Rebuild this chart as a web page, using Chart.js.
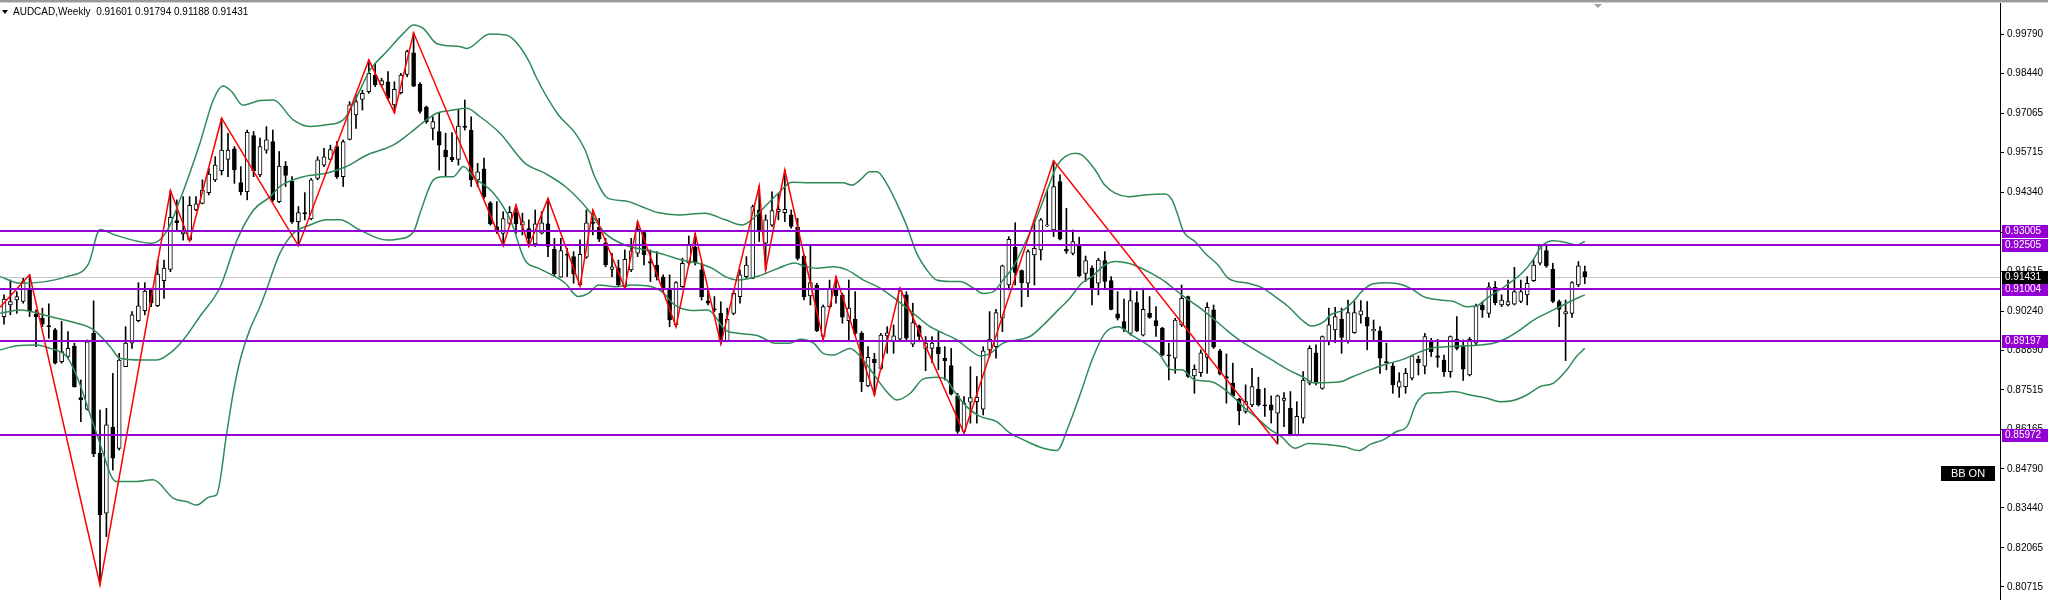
<!DOCTYPE html>
<html>
<head>
<meta charset="utf-8">
<title>AUDCAD Weekly</title>
<script src="https://cdn.jsdelivr.net/npm/chart.js@4.4.1/dist/chart.umd.min.js"></script>
<style>
  html, body { margin: 0; padding: 0; background: #fff; }
  canvas { display: block; }
</style>
</head>
<body>
<canvas id="myChart" width="2048" height="600"></canvas>
<script>
const symbolTitle = "AUDCAD,Weekly";

// weekly candles, oldest first
const opens = [
  0.9005,0.9045,0.9062,0.9057,0.9099,0.9013,0.8999,0.8973,0.8959,0.8849,
  0.8867,0.8903,0.8725,0.8685,0.8947,0.8533,0.8326,0.8623,0.8550,0.8832,
  0.8913,0.8991,0.9025,0.9099,0.9043,0.9129,0.9168,0.9336,0.9290,0.9269,
  0.9373,0.9396,0.9433,0.9477,0.9509,0.9548,0.9584,0.9468,0.9436,0.9630,
  0.9494,0.9580,0.9609,0.9402,0.9525,0.9473,0.9333,0.9364,0.9342,0.9482,
  0.9528,0.9548,0.9592,0.9488,0.9617,0.9701,0.9755,0.9782,0.9839,0.9805,
  0.9816,0.9736,0.9778,0.9841,0.9916,0.9808,0.9728,0.9655,0.9644,0.9580,
  0.9555,0.9548,0.9663,0.9649,0.9477,0.9515,0.9398,0.9315,0.9292,0.9327,
  0.9364,0.9321,0.9309,0.9256,0.9293,0.9325,0.9237,0.9141,0.9220,0.9212,
  0.9114,0.9210,0.9329,0.9313,0.9260,0.9168,0.9172,0.9108,0.9166,0.9224,
  0.9295,0.9195,0.9183,0.9141,0.9097,0.8976,0.9108,0.9189,0.9244,0.9166,
  0.9059,0.9030,0.9016,0.8922,0.9016,0.9074,0.9143,0.9137,0.9373,0.9258,
  0.9321,0.9367,0.9364,0.9356,0.9313,0.9214,0.9076,0.9114,0.8936,0.9039,
  0.9103,0.9078,0.8991,0.8996,0.8947,0.8765,0.8857,0.8826,0.8938,0.8922,
  0.8927,0.9080,0.8910,0.8973,0.8895,0.8895,0.8899,0.8861,0.8836,0.8731,
  0.8608,0.8709,0.8711,0.8685,0.8890,0.8901,0.8999,0.9114,0.9244,0.9164,
  0.9120,0.9218,0.9235,0.9318,0.9304,0.9471,0.9237,0.9223,0.9249,0.9154,
  0.9172,0.9120,0.9198,0.9129,0.9014,0.8988,0.8947,0.9053,0.8941,0.9016,
  0.8991,0.8965,0.8872,0.8861,0.8976,0.9074,0.8800,0.8811,0.8864,0.9028,
  0.8887,0.8798,0.8775,0.8719,0.8677,0.8700,0.8754,0.8700,0.8700,0.8671,
  0.8715,0.8688,0.8596,0.8654,0.8775,0.8880,0.8757,0.8918,0.8959,0.8996,
  0.8918,0.8949,0.9011,0.9002,0.8955,0.8956,0.8849,0.8834,0.8761,0.8763,
  0.8792,0.8857,0.8834,0.8918,0.8869,0.8855,0.8815,0.8926,0.8901,0.8803,
  0.8913,0.9045,0.9016,0.9106,0.9045,0.9045,0.9048,0.9057,0.9080,0.9129,
  0.9189,0.9233,0.9168,0.9057,0.9014,0.9016,0.9114,0.91601
];
const highs = [
  0.9080,0.9131,0.9091,0.9137,0.9149,0.9028,0.9034,0.9049,0.8964,0.8988,
  0.8953,0.8913,0.8786,0.8924,0.9059,0.8682,0.8688,0.8809,0.8878,0.8970,
  0.9022,0.9122,0.9122,0.9103,0.9200,0.9200,0.9440,0.9408,0.9419,0.9419,
  0.9419,0.9477,0.9517,0.9557,0.9690,0.9638,0.9592,0.9523,0.9649,0.9644,
  0.9621,0.9661,0.9649,0.9575,0.9540,0.9488,0.9385,0.9433,0.9482,0.9557,
  0.9586,0.9597,0.9609,0.9615,0.9747,0.9770,0.9787,0.9891,0.9879,0.9828,
  0.9851,0.9816,0.9845,0.9925,0.9985,0.9813,0.9732,0.9695,0.9707,0.9638,
  0.9640,0.9718,0.9753,0.9695,0.9534,0.9552,0.9402,0.9402,0.9367,0.9385,
  0.9390,0.9362,0.9339,0.9373,0.9367,0.9413,0.9275,0.9275,0.9241,0.9229,
  0.9270,0.9373,0.9373,0.9344,0.9275,0.9223,0.9200,0.9235,0.9275,0.9333,
  0.9298,0.9235,0.9229,0.9149,0.9149,0.9126,0.9206,0.9283,0.9292,0.9189,
  0.9097,0.9074,0.9056,0.9034,0.9097,0.9166,0.9212,0.9390,0.9456,0.9356,
  0.9436,0.9431,0.9511,0.9373,0.9344,0.9218,0.9249,0.9120,0.9045,0.9131,
  0.9143,0.9085,0.9131,0.9091,0.8953,0.8901,0.8878,0.8947,0.8970,0.8976,
  0.9103,0.9091,0.9051,0.8976,0.8936,0.8936,0.8953,0.8901,0.8895,0.8740,
  0.8729,0.8832,0.8798,0.8901,0.9022,0.9030,0.9183,0.9281,0.9329,0.9166,
  0.9235,0.9339,0.9344,0.9442,0.9543,0.9494,0.9379,0.9304,0.9279,0.9214,
  0.9180,0.9206,0.9229,0.9143,0.9091,0.9065,0.9103,0.9091,0.9103,0.9074,
  0.9039,0.8968,0.8913,0.8999,0.9114,0.9076,0.8838,0.8890,0.9053,0.9045,
  0.8892,0.8876,0.8844,0.8723,0.8769,0.8826,0.8795,0.8757,0.8731,0.8734,
  0.8742,0.8746,0.8711,0.8815,0.8904,0.8907,0.8938,0.9034,0.9037,0.9034,
  0.9062,0.9057,0.9060,0.9057,0.8993,0.8970,0.8913,0.8844,0.8811,0.8826,
  0.8872,0.8869,0.8947,0.8930,0.8926,0.8872,0.8938,0.9005,0.8924,0.8933,
  0.9048,0.9057,0.9122,0.9126,0.9080,0.9131,0.9175,0.9131,0.9143,0.9200,
  0.9252,0.9252,0.9189,0.9062,0.9062,0.9126,0.9195,0.91794
];
const lows = [
  0.8979,0.9011,0.9016,0.9051,0.9005,0.8901,0.8970,0.8930,0.8841,0.8844,
  0.8861,0.8761,0.8642,0.8682,0.8521,0.8078,0.8245,0.8475,0.8544,0.8832,
  0.8895,0.8987,0.9011,0.9039,0.9039,0.9068,0.9160,0.9298,0.9269,0.9267,
  0.9371,0.9394,0.9425,0.9471,0.9494,0.9488,0.9465,0.9425,0.9408,0.9488,
  0.9488,0.9569,0.9402,0.9398,0.9454,0.9327,0.9249,0.9339,0.9339,0.9477,
  0.9523,0.9546,0.9482,0.9454,0.9615,0.9655,0.9718,0.9776,0.9799,0.9799,
  0.9753,0.9709,0.9774,0.9833,0.9799,0.9707,0.9672,0.9615,0.9511,0.9488,
  0.9540,0.9528,0.9649,0.9454,0.9454,0.9413,0.9321,0.9292,0.9249,0.9321,
  0.9292,0.9287,0.9247,0.9247,0.9290,0.9212,0.9143,0.9141,0.9143,0.9120,
  0.9111,0.9206,0.9287,0.9264,0.9177,0.9143,0.9108,0.9103,0.9160,0.9212,
  0.9183,0.9126,0.9131,0.9091,0.8970,0.8970,0.9106,0.9183,0.9183,0.9062,
  0.9045,0.9022,0.8910,0.8918,0.9011,0.9051,0.9137,0.9137,0.9264,0.9166,
  0.9316,0.9339,0.9333,0.9310,0.9200,0.9062,0.9045,0.8953,0.8924,0.9034,
  0.9051,0.8982,0.8918,0.8941,0.8746,0.8763,0.8734,0.8821,0.8878,0.8878,
  0.8924,0.8924,0.8901,0.8918,0.8818,0.8846,0.8821,0.8786,0.8734,0.8602,
  0.8602,0.8637,0.8637,0.8665,0.8867,0.8861,0.8953,0.9097,0.9114,0.9039,
  0.9074,0.9114,0.9200,0.9316,0.9281,0.9270,0.9223,0.9218,0.9143,0.9126,
  0.9045,0.9080,0.9103,0.9028,0.8993,0.8953,0.8941,0.8953,0.8938,0.8999,
  0.8936,0.8869,0.8786,0.8809,0.8970,0.8795,0.8740,0.8798,0.8809,0.8895,
  0.8803,0.8706,0.8729,0.8631,0.8671,0.8694,0.8696,0.8660,0.8637,0.8565,
  0.8625,0.8593,0.8593,0.8637,0.8769,0.8769,0.8754,0.8907,0.8915,0.8878,
  0.8913,0.8947,0.8982,0.8890,0.8924,0.8809,0.8821,0.8740,0.8726,0.8740,
  0.8786,0.8803,0.8807,0.8867,0.8830,0.8798,0.8795,0.8890,0.8784,0.8800,
  0.8907,0.9002,0.9002,0.9045,0.9039,0.9042,0.9045,0.9053,0.9045,0.9126,
  0.9183,0.9175,0.9053,0.8970,0.8853,0.9002,0.9108,0.91188
];
const closes = [
  0.9065,0.9057,0.9074,0.9126,0.9025,0.9005,0.8979,0.8970,0.8844,0.8884,
  0.8895,0.8763,0.8717,0.8918,0.8531,0.8320,0.8631,0.8516,0.8855,0.8913,
  0.9011,0.9042,0.9093,0.9051,0.9152,0.9172,0.9348,0.9329,0.9298,0.9389,
  0.9394,0.9442,0.9497,0.9528,0.9580,0.9580,0.9511,0.9436,0.9641,0.9509,
  0.9592,0.9615,0.9408,0.9525,0.9492,0.9333,0.9364,0.9359,0.9477,0.9546,
  0.9557,0.9582,0.9488,0.9609,0.9736,0.9747,0.9776,0.9845,0.9805,0.9820,
  0.9759,0.9790,0.9839,0.9920,0.9801,0.9713,0.9678,0.9678,0.9597,0.9557,
  0.9546,0.9663,0.9658,0.9477,0.9505,0.9419,0.9325,0.9302,0.9343,0.9365,
  0.9325,0.9333,0.9275,0.9325,0.9329,0.9247,0.9152,0.9233,0.9217,0.9152,
  0.9220,0.9329,0.9327,0.9272,0.9183,0.9177,0.9114,0.9203,0.9232,0.9306,
  0.9218,0.9189,0.9143,0.9097,0.8993,0.9122,0.9189,0.9252,0.9191,0.9074,
  0.9051,0.9028,0.8918,0.8996,0.9085,0.9149,0.9183,0.9385,0.9298,0.9339,
  0.9371,0.9375,0.9375,0.9316,0.9206,0.9074,0.9122,0.8956,0.9039,0.9103,
  0.9076,0.9003,0.9034,0.8947,0.8780,0.8864,0.8846,0.8941,0.8949,0.8938,
  0.9095,0.8930,0.8984,0.8936,0.8913,0.8913,0.8876,0.8853,0.8738,0.8608,
  0.8706,0.8725,0.8726,0.8887,0.8927,0.9019,0.9180,0.9272,0.9157,0.9122,
  0.9229,0.9241,0.9339,0.9321,0.9454,0.9272,0.9231,0.9264,0.9145,0.9198,
  0.9099,0.9200,0.9126,0.9030,0.8999,0.8961,0.9060,0.8956,0.9030,0.9002,
  0.8973,0.8872,0.8869,0.8993,0.9068,0.8798,0.8823,0.8880,0.9037,0.8899,
  0.8807,0.8791,0.8731,0.8680,0.8711,0.8763,0.8700,0.8696,0.8682,0.8731,
  0.8723,0.8600,0.8660,0.8786,0.8895,0.8775,0.8936,0.8976,0.9005,0.8933,
  0.9019,0.9019,0.9025,0.8972,0.8961,0.8861,0.8846,0.8769,0.8780,0.8809,
  0.8869,0.8846,0.8936,0.8884,0.8864,0.8815,0.8936,0.8895,0.8823,0.8926,
  0.9042,0.9028,0.9108,0.9053,0.9062,0.9057,0.9091,0.9091,0.9120,0.9183,
  0.9249,0.9180,0.9057,0.9030,0.9022,0.9122,0.9180,0.91431
];

// bollinger bands: [bar index, price]
const upperBand = [
  [-0.6,0.9143],[2.5,0.9120],[9.8,0.9143],[13.2,0.9187],[15.0,0.9306],[17.3,0.9287],[23.1,0.9258],
  [25.4,0.9298],[27.5,0.9408],[30.6,0.9603],[32.7,0.9753],[34.2,0.9801],[35.6,0.9781],[37.3,0.9735],
  [40.0,0.9751],[42.1,0.9753],[45.2,0.9684],[47.8,0.9661],[50.4,0.9667],[53.0,0.9684],[54.6,0.9741],
  [57.2,0.9856],[59.8,0.9920],[62.4,0.9983],[64.0,1.0012],[65.5,1.0000],[67.6,0.9948],[71.3,0.9937],
  [72.3,0.9931],[75.9,0.9981],[78.5,0.9977],[80.6,0.9937],[82.2,0.9879],[83.1,0.9834],[86.6,0.9702],
  [89.2,0.9640],[90.8,0.9580],[92.3,0.9488],[94.4,0.9413],[97.0,0.9405],[99.6,0.9385],[102.2,0.9364],
  [105.4,0.9356],[109.5,0.9362],[112.7,0.9339],[115.3,0.9321],[116.8,0.9339],[118.9,0.9385],[121.0,0.9431],
  [123.1,0.9469],[125.9,0.9467],[131.1,0.9467],[132.5,0.9459],[133.8,0.9477],[135.3,0.9505],[136.4,0.9505],
  [137.9,0.9465],[139.5,0.9396],[141.0,0.9321],[142.6,0.9224],[144.2,0.9166],[145.7,0.9131],[147.8,0.9126],
  [149.4,0.9126],[151.5,0.9103],[153.0,0.9085],[154.6,0.9091],[156.1,0.9131],[157.7,0.9177],[159.3,0.9247],
  [161.4,0.9350],[163.4,0.9465],[164.5,0.9525],[165.8,0.9557],[167.3,0.9569],[168.4,0.9563],[170.5,0.9511],
  [172.0,0.9459],[173.6,0.9431],[175.7,0.9419],[178.3,0.9425],[181.4,0.9428],[182.5,0.9408],[183.5,0.9350],
  [184.3,0.9298],[186.1,0.9264],[187.7,0.9223],[189.7,0.9183],[191.3,0.9137],[194.4,0.9120],[196.5,0.9106],
  [198.6,0.9074],[200.7,0.9039],[202.8,0.8993],[204.3,0.8972],[206.4,0.8990],[207.2,0.9010],[209.3,0.9028],
  [210.8,0.9057],[212.4,0.9097],[213.9,0.9118],[216.0,0.9122],[218.6,0.9114],[220.2,0.9097],[221.8,0.9074],
  [224.4,0.9062],[226.5,0.9057],[228.5,0.9039],[230.1,0.9042],[231.7,0.9068],[234.8,0.9114],[237.4,0.9160],
  [238.9,0.9200],[240.3,0.9249],[242.1,0.9267],[244.2,0.9260],[245.7,0.9252],[247.0,0.9264]
];
const middleBand = [
  [-0.6,0.9016],[2.5,0.9028],[7.2,0.9005],[11.4,0.8982],[14.0,0.8959],[16.6,0.8901],[18.1,0.8861],
  [21.3,0.8855],[23.9,0.8855],[25.9,0.8878],[28.0,0.8924],[30.6,0.9005],[33.8,0.9108],[36.4,0.9269],
  [39.0,0.9373],[41.6,0.9419],[43.1,0.9454],[46.8,0.9488],[50.4,0.9500],[53.5,0.9523],[56.7,0.9563],
  [60.8,0.9597],[63.4,0.9638],[66.0,0.9684],[67.6,0.9707],[70.2,0.9718],[72.3,0.9724],[74.4,0.9695],
  [77.5,0.9638],[81.4,0.9535],[84.5,0.9500],[87.7,0.9454],[91.3,0.9373],[93.9,0.9293],[97.0,0.9252],
  [100.2,0.9235],[103.3,0.9218],[105.9,0.9200],[108.5,0.9189],[110.6,0.9172],[112.7,0.9143],[114.7,0.9131],
  [117.9,0.9145],[121.0,0.9172],[123.6,0.9190],[124.9,0.9180],[127.0,0.9172],[129.6,0.9177],[131.7,0.9166],
  [134.3,0.9131],[136.9,0.9103],[139.5,0.9062],[142.1,0.9016],[144.7,0.8970],[146.8,0.8947],[148.9,0.8924],
  [150.9,0.8890],[152.5,0.8869],[154.1,0.8878],[156.1,0.8913],[158.2,0.8924],[160.3,0.8936],[162.4,0.8976],
  [165.0,0.9034],[166.3,0.9062],[168.4,0.9120],[170.0,0.9143],[172.0,0.9183],[173.6,0.9195],[175.7,0.9189],
  [177.2,0.9177],[179.3,0.9154],[181.4,0.9126],[184.0,0.9080],[186.6,0.9039],[189.2,0.8993],[191.3,0.8953],
  [193.4,0.8918],[195.5,0.8890],[198.1,0.8855],[200.7,0.8821],[202.8,0.8798],[204.8,0.8776],[208.8,0.8780],
  [210.8,0.8798],[213.4,0.8821],[216.0,0.8841],[218.6,0.8857],[220.7,0.8878],[222.8,0.8895],[225.4,0.8901],
  [227.5,0.8903],[230.6,0.8907],[232.7,0.8913],[234.8,0.8930],[236.9,0.8959],[239.0,0.8993],[241.0,0.9016],
  [243.1,0.9039],[245.2,0.9062],[247.0,0.9080]
];
const lowerBand = [
  [-0.6,0.8890],[2.0,0.8904],[5.1,0.8907],[7.2,0.8895],[9.8,0.8867],[11.4,0.8797],[13.4,0.8671],
  [15.5,0.8533],[16.8,0.8452],[17.6,0.8435],[20.2,0.8435],[23.3,0.8441],[26.5,0.8377],[28.5,0.8366],
  [30.1,0.8354],[32.2,0.8383],[33.2,0.8389],[34.8,0.8602],[35.8,0.8740],[36.9,0.8855],[38.4,0.8959],
  [40.0,0.9039],[41.0,0.9097],[43.1,0.9223],[45.2,0.9292],[47.8,0.9321],[50.4,0.9339],[52.5,0.9339],
  [55.6,0.9304],[59.8,0.9269],[61.4,0.9272],[64.0,0.9298],[65.0,0.9362],[67.1,0.9477],[68.6,0.9488],
  [70.2,0.9488],[71.8,0.9523],[73.3,0.9488],[76.5,0.9431],[79.1,0.9340],[81.4,0.9200],[83.5,0.9172],
  [85.6,0.9149],[87.7,0.9120],[89.7,0.9074],[91.3,0.9085],[92.9,0.9114],[95.5,0.9108],[98.1,0.9114],
  [101.2,0.9108],[102.8,0.9091],[104.8,0.9045],[107.5,0.9026],[110.0,0.9028],[112.7,0.8959],[114.7,0.8947],
  [117.9,0.8938],[120.5,0.8913],[122.8,0.8913],[124.4,0.8927],[126.5,0.8913],[128.0,0.8878],[129.6,0.8872],
  [132.2,0.8895],[133.8,0.8867],[135.8,0.8809],[137.9,0.8746],[139.5,0.8717],[141.6,0.8740],[143.6,0.8789],
  [145.7,0.8795],[147.3,0.8786],[148.3,0.8752],[150.4,0.8694],[152.5,0.8660],[155.1,0.8642],[157.2,0.8602],
  [159.3,0.8579],[162.4,0.8550],[164.5,0.8542],[166.3,0.8625],[168.4,0.8752],[170.0,0.8855],[172.0,0.8947],
  [174.1,0.8970],[176.2,0.8941],[178.3,0.8913],[180.4,0.8878],[182.5,0.8821],[184.0,0.8821],[186.1,0.8786],
  [188.7,0.8780],[190.8,0.8752],[192.3,0.8723],[193.9,0.8688],[195.5,0.8660],[197.6,0.8619],[199.6,0.8590],
  [201.7,0.8550],[203.8,0.8567],[206.7,0.8563],[209.5,0.8555],[211.6,0.8542],[213.7,0.8566],[215.5,0.8579],
  [217.6,0.8608],[219.2,0.8625],[220.7,0.8706],[222.3,0.8740],[223.9,0.8742],[226.5,0.8746],[229.1,0.8734],
  [231.7,0.8723],[233.8,0.8711],[235.8,0.8715],[237.9,0.8734],[240.0,0.8763],[242.1,0.8775],[244.2,0.8821],
  [245.7,0.8867],[247.0,0.8895]
];

// zigzag pivots: [bar index, price]
const zigzag = [
  [-0.6,0.9037],[4,0.9149],[15,0.8078],[26,0.9440],[29,0.9267],[34,0.9690],[46,0.9249],[57,0.9891],
  [61,0.9709],[64,0.9985],[78,0.9249],[80,0.9390],[82,0.9247],[85,0.9413],[90,0.9111],[92,0.9373],
  [97,0.9103],[99,0.9333],[105,0.8970],[108,0.9292],[112,0.8910],[118,0.9456],[119,0.9166],[122,0.9511],
  [128,0.8924],[130,0.9143],[136,0.8734],[140,0.9103],[150,0.8602],[164,0.9543],[199,0.8565]
];

const levels = [0.93005, 0.92505, 0.91004, 0.89197, 0.85972];
const lastPrice = 0.91431;
const priceTicks = [0.99790, 0.98440, 0.97065, 0.95715, 0.94340, 0.92965, 0.91615, 0.90240,
  0.88890, 0.87515, 0.86165, 0.84790, 0.83440, 0.82065, 0.80715];

const yMin = 0.80261, yMax = 1.00982;
const xMin = -0.625, xMax = 311.875;

const purple = "#9400d3";
const bandGreen = "#2e8b57";

const toPoints = (arr) => arr.map((p) => ({ x: p[0], y: p[1] }));

const bodies = opens.map((o, i) => ({ x: i, y: [o, closes[i]] }));
const wicks = lows.map((l, i) => ({ x: i, y: [l, highs[i]] }));
const bodyColors = opens.map((o, i) => (closes[i] >= o ? "#ffffff" : "#000000"));

const mtDecor = {
  id: "mtDecor",
  beforeDraw(chart) {
    const ctx = chart.ctx;
    ctx.save();
    ctx.fillStyle = "#ffffff";
    ctx.fillRect(0, 0, chart.width, chart.height);
    ctx.restore();
  },
  beforeDatasetsDraw(chart) {
    const ctx = chart.ctx;
    const area = chart.chartArea;
    const y = Math.round(chart.scales.y.getPixelForValue(lastPrice)) + 0.5;
    ctx.save();
    ctx.strokeStyle = "#c8c8c8";
    ctx.lineWidth = 1;
    ctx.beginPath();
    ctx.moveTo(area.left, y);
    ctx.lineTo(area.right, y);
    ctx.stroke();
    ctx.restore();
  },
  afterDatasetsDraw(chart) {
    const ctx = chart.ctx;
    const area = chart.chartArea;
    ctx.save();
    ctx.strokeStyle = purple;
    ctx.lineWidth = 2;
    levels.forEach((v) => {
      const y = Math.round(chart.scales.y.getPixelForValue(v));
      ctx.beginPath();
      ctx.moveTo(area.left, y);
      ctx.lineTo(area.right, y);
      ctx.stroke();
    });
    ctx.restore();
  },
  afterDraw(chart) {
    const ctx = chart.ctx;
    const area = chart.chartArea;
    const yScale = chart.scales.y;
    ctx.save();
    ctx.font = "10px 'Liberation Sans', Arial, sans-serif";
    ctx.textBaseline = "middle";

    // price tags on the axis
    const tag = (v, bg) => {
      const y = Math.round(yScale.getPixelForValue(v));
      ctx.fillStyle = bg;
      ctx.fillRect(area.right + 2, y - 6, chart.width - area.right - 2, 13);
      ctx.fillStyle = "#ffffff";
      ctx.fillText(v.toFixed(5), area.right + 5, y + 0.5);
    };
    levels.forEach((v) => tag(v, purple));
    tag(lastPrice, "#000000");

    // BB ON button
    ctx.fillStyle = "#000000";
    ctx.fillRect(1941, 466, 54, 15);
    ctx.fillStyle = "#ffffff";
    ctx.font = "11px 'Liberation Sans', Arial, sans-serif";
    ctx.textAlign = "center";
    ctx.fillText("BB ON", 1968, 474);

    // header
    ctx.textAlign = "left";
    ctx.fillStyle = "#000000";
    ctx.beginPath();
    ctx.moveTo(2, 10);
    ctx.lineTo(8, 10);
    ctx.lineTo(5, 14);
    ctx.closePath();
    ctx.fill();
    const n = closes.length - 1;
    const ohlc = [opens[n], highs[n], lows[n], closes[n]].map((v) => v.toFixed(5)).join(" ");
    ctx.font = "10px 'Liberation Sans', Arial, sans-serif";
    ctx.fillText(symbolTitle + "  " + ohlc, 13, 12.5);

    // window border on top + shift marker
    ctx.fillStyle = "#9a9a9a";
    ctx.fillRect(0, 0, chart.width, 2);
    ctx.fillStyle = "#d4d4d4";
    ctx.fillRect(0, 2, chart.width, 1);
    ctx.fillStyle = "#a0a0a0";
    ctx.beginPath();
    ctx.moveTo(1594, 4);
    ctx.lineTo(1602, 4);
    ctx.lineTo(1598, 8);
    ctx.closePath();
    ctx.fill();
    ctx.restore();
  }
};

Chart.defaults.font.family = "'Liberation Sans', Arial, sans-serif";

const ctx = document.getElementById("myChart").getContext("2d");
const myChart = new Chart(ctx, {
  type: "bar",
  data: {
    datasets: [
      {
        type: "line", label: "ZigZag", data: toPoints(zigzag),
        borderColor: "#ff0000", borderWidth: 1.5, pointRadius: 0, tension: 0, order: 0
      },
      {
        type: "line", label: "BB upper", data: toPoints(upperBand),
        borderColor: bandGreen, borderWidth: 1.5, pointRadius: 0, cubicInterpolationMode: "monotone", order: 1
      },
      {
        type: "line", label: "BB middle", data: toPoints(middleBand),
        borderColor: bandGreen, borderWidth: 1.5, pointRadius: 0, cubicInterpolationMode: "monotone", order: 1
      },
      {
        type: "line", label: "BB lower", data: toPoints(lowerBand),
        borderColor: bandGreen, borderWidth: 1.5, pointRadius: 0, cubicInterpolationMode: "monotone", order: 1
      },
      {
        type: "bar", label: "body", data: bodies,
        backgroundColor: bodyColors, borderColor: "#000000", borderWidth: 1, borderSkipped: false,
        barThickness: 4, minBarLength: 1, grouped: false, order: 2
      },
      {
        type: "bar", label: "wick", data: wicks,
        backgroundColor: "#000000", borderWidth: 0, barThickness: 1, grouped: false, order: 3
      }
    ]
  },
  options: {
    responsive: false,
    animation: false,
    layout: { padding: 0 },
    plugins: { legend: { display: false }, tooltip: { enabled: false } },
    scales: {
      x: {
        type: "linear", min: xMin, max: xMax, display: false, offset: false,
        grid: { display: false }
      },
      y: {
        type: "linear", position: "right", min: yMin, max: yMax,
        afterBuildTicks: (s) => { s.ticks = priceTicks.map((v) => ({ value: v })); },
        afterFit: (s) => { s.width = 48; s.paddingTop = 0; s.paddingBottom = 0; },
        ticks: {
          autoSkip: false, color: "#000000", padding: 3,
          font: { size: 10 },
          callback: (v) => Number(v).toFixed(5)
        },
        grid: { drawOnChartArea: false, drawTicks: true, tickLength: 4, color: "#000000" },
        border: { display: true, color: "#000000" }
      }
    }
  },
  plugins: [mtDecor]
});
</script>
</body>
</html>
